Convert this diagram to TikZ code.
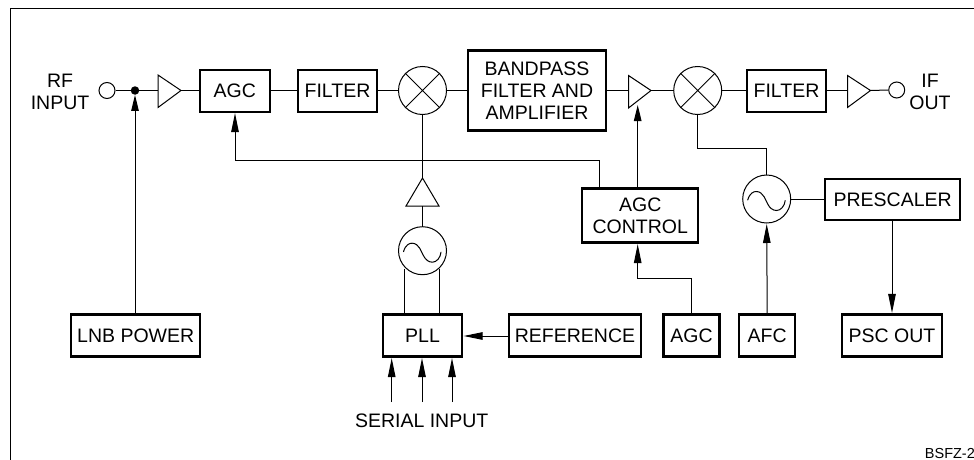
\documentclass[tikz,border=0pt]{standalone}
\usepackage{fontspec}
\setmainfont{Liberation Sans}
\usetikzlibrary{arrows.meta}
\tikzset{
  x=1pt,y=-1pt,
  thinline/.style={line width=1pt,line cap=butt},
  arrowline/.style={thinline,-{Triangle[length=19pt,width=7.5pt]},shorten >=0.5pt},
  shortarrow/.style={thinline,-{Triangle[length=16pt,width=7.5pt]}},
  blockbox/.style={draw,line width=2.2pt,inner sep=0pt,align=center,font=\fontsize{19.5pt}{22pt}\selectfont},
  plainlabel/.style={inner sep=0pt,align=center,font=\fontsize{19.5pt}{22pt}\selectfont},
  ringnode/.style={draw,circle,line width=1pt,inner sep=0pt,minimum size=48pt},
  portnode/.style={draw,circle,line width=1pt,inner sep=0pt,minimum size=16pt},
  ampshape/.style={line width=1pt,line join=miter},
  wave/.pic={\draw[line width=1pt,line cap=round] (-19,1) .. controls (-17,-6) and (-13,-7.5) .. (-10.5,-7.5) .. controls (-3,-7.5) and (-1,2) .. (1,5) .. controls (3,9) and (6,11.5) .. (10,11.5) .. controls (14,11.5) and (18,7) .. (18.5,1.5);},
}
\begin{document}
\begin{tikzpicture}
\useasboundingbox (0,0) rectangle (974,460);
\clip (0,0) rectangle (974,460);
% frame (top and left only)
\coordinate (fbl) at (10.5,460);
\coordinate (ftl) at (10.5,9);
\coordinate (ftr) at (974,9);
\draw[line width=1pt] (fbl) -- (ftl) -- (ftr);

% signal row
\node[plainlabel] (rflabel) at (60,91.5) {RF\\INPUT};
\node[portnode] (rfport) at (107,90.5) {};
\node[circle,fill,inner sep=0pt,minimum size=8.5pt] (tap) at (135,90.5) {};
\coordinate (a1l) at (158,90.5);
\coordinate (a1r) at (181,90.5);
\draw[ampshape] (158,75) -- (a1r) -- (158,107.5) -- cycle;
\node[blockbox,minimum width=70pt,minimum height=42pt] (agcone) at (234.8,91) {AGC};
\node[blockbox,minimum width=79pt,minimum height=42pt] (filterone) at (337.5,91) {FILTER};
\node[ringnode] (mixone) at (422.5,90.5) {};
\draw[line width=1pt] (mixone.45) -- (mixone.225) (mixone.135) -- (mixone.315);
\node[blockbox,minimum width=138pt,minimum height=80pt] (bandpass) at (537,90.5) {BANDPASS\\FILTER AND\\AMPLIFIER};
\coordinate (a2l) at (628.5,90.5);
\coordinate (a2r) at (651,90.5);
\draw[ampshape] (628.5,75.5) -- (a2r) -- (628.5,108) -- cycle;
\node[ringnode] (mixtwo) at (697.7,90.5) {};
\draw[line width=1pt] (mixtwo.45) -- (mixtwo.225) (mixtwo.135) -- (mixtwo.315);
\node[blockbox,minimum width=79pt,minimum height=42pt] (filtertwo) at (786.5,91) {FILTER};
\coordinate (a3l) at (847.5,90.5);
\coordinate (a3r) at (870.5,90.5);
\draw[ampshape] (847.5,75.5) -- (a3r) -- (847.5,107.5) -- cycle;
\node[portnode] (ifport) at (896.7,90) {};
\node[plainlabel] (iflabel) at (930,91.5) {IF\\OUT};

\draw[thinline] (rfport.east) -- (tap) -- (a1l);
\draw[thinline] (a1r) -- (agcone.west |- a1r);
\draw[thinline] (agcone.east |- mixone) -- (filterone.west |- mixone);
\draw[thinline] (filterone.east |- mixone) -- (mixone.west);
\draw[thinline] (mixone.east) -- (bandpass.west);
\draw[thinline] (bandpass.east) -- (a2l);
\draw[thinline] (a2r) -- (mixtwo.west);
\draw[thinline] (mixtwo.east) -- (filtertwo.west |- mixtwo);
\draw[thinline] (filtertwo.east |- a3l) -- (a3l);
\draw[thinline] (a3r) -- (ifport.west);

% local oscillator chain 1
\coordinate (a4top) at (422.5,178);
\coordinate (a4base) at (422.5,206);
\draw[ampshape] (a4top) -- (439,206) -- (406,206) -- cycle;
\node[ringnode] (oscone) at (422.5,250.7) {};
\pic at (oscone) {wave};
\node[blockbox,minimum width=79pt,minimum height=42pt] (pll) at (422.5,335.5) {PLL};
\coordinate (pllbl) at (404,314);
\coordinate (pllbr) at (439.7,314);
\draw[thinline] (mixone.south) -- (a4top);
\draw[thinline] (a4base) -- (oscone.north);
\draw[thinline] (pll.north -| pllbl) -- (pllbl |- oscone.230);
\draw[thinline] (pll.north -| pllbr) -- (pllbr |- oscone.310);

% bottom row
\node[blockbox,minimum width=129pt,minimum height=42pt] (lnb) at (135.7,335.5) {LNB POWER};
\node[blockbox,minimum width=132pt,minimum height=42pt] (reference) at (575,335.5) {REFERENCE};
\node[blockbox,minimum width=56pt,minimum height=42pt] (agctwo) at (691.5,335.5) {AGC};
\node[blockbox,minimum width=56pt,minimum height=42pt] (afc) at (767.2,335.5) {AFC};
\node[blockbox,minimum width=100pt,minimum height=42pt] (psc) at (892,335.5) {PSC OUT};
\draw[shortarrow] (lnb.north -| tap) -- (tap.south);
\draw[arrowline] (reference.west |- 0,336) -- (pll.east |- 0,336);

% serial inputs
\coordinate (s1) at (391.7,402);
\coordinate (s2) at (422,402);
\coordinate (s3) at (452,402);
\draw[arrowline] (s1) -- (s1 |- pll.south);
\draw[arrowline] (s2) -- (s2 |- pll.south);
\draw[arrowline] (s3) -- (s3 |- pll.south);
\node[plainlabel] (serial) at (421.7,421) {SERIAL INPUT};

% AGC control
\node[blockbox,minimum width=116pt,minimum height=54pt] (ctrl) at (640.2,215.5) {AGC\\CONTROL};
\coordinate (ctrlout) at (599,187.5);
\coordinate (fbturn) at (599,160);
\coordinate (fbagc) at (235,160);
\draw[thinline,-{Triangle[length=19pt,width=7.5pt]}] (ctrl.north -| ctrlout) -- (fbturn) -- (fbagc) -- (fbagc |- agcone.south);
\coordinate (ctrlin) at (637.7,216);
\draw[shortarrow] (ctrl.north -| ctrlin) -- (637.7,105);
\draw[arrowline] (agctwo.north -| agctwo) -- (691.5,278) -- (637.7,278) -- (ctrl.south -| ctrlin);

% local oscillator chain 2
\node[ringnode] (osctwo) at (766.7,199) {};
\pic at (osctwo) {wave};
\node[blockbox,minimum width=135pt,minimum height=41pt] (presc) at (892.7,199.5) {PRESCALER};
\draw[thinline] (mixtwo.south) -- (697.7,148.5) -- (766.7,148.5) -- (osctwo.north);
\draw[thinline] (osctwo.east) -- (presc.west |- osctwo);
\draw[arrowline] (afc.north) -- (osctwo.south);
\draw[arrowline] (presc.south -| psc) -- (psc.north);

% drawing code
\node[anchor=west,inner sep=0pt,font=\fontsize{14.5pt}{16pt}\selectfont] (code) at (924.7,454) {BSFZ-2};
\end{tikzpicture}
\end{document}
